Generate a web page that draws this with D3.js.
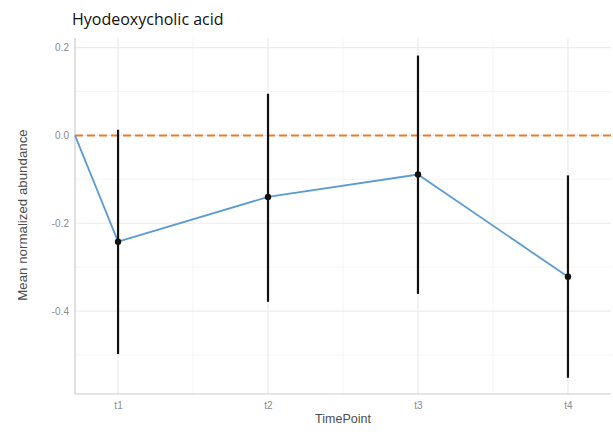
<!DOCTYPE html>
<html>
<head>
<meta charset="utf-8">
<script src="https://cdn.jsdelivr.net/npm/d3@7"></script>
<style>
  html, body { margin: 0; padding: 0; background: #fff; }
  svg { display: block; }
</style>
</head>
<body>
<svg id="chart" width="613" height="432"></svg>
<script>
// Time points and summary statistics
const timepoints = ["t1", "t2", "t3", "t4"];
const meanValues = [-0.242, -0.140, -0.089, -0.322];
const lowerValues = [-0.498, -0.379, -0.361, -0.552];
const upperValues = [0.013, 0.095, 0.182, -0.091];
// Line begins at the baseline value on the left panel edge
const baselineValue = 0;
const referenceLevel = 0;
const yTicks = [-0.4, -0.2, 0.0, 0.2];
const yMinorTicks = [-0.5, -0.3, -0.1, 0.1];
const xMinorTicks = [1.5, 2.5, 3.5];

const svg = d3.select("#chart");
const panel = { left: 75, right: 611, top: 38, bottom: 394 };

const x = d3.scaleLinear().domain([0.713, 4.287]).range([panel.left, panel.right]);
const y = d3.scaleLinear().domain([-0.589, 0.222]).range([panel.bottom, panel.top]);

const positions = timepoints.map((d, i) => i + 1);

// Grid
const grid = svg.append("g");
grid.selectAll(".ymin").data(yMinorTicks).join("line")
  .attr("x1", panel.left).attr("x2", panel.right)
  .attr("y1", d => y(d)).attr("y2", d => y(d))
  .attr("stroke", "#f2f2f2").attr("stroke-width", 0.8);
grid.selectAll(".xmin").data(xMinorTicks).join("line")
  .attr("y1", panel.top).attr("y2", panel.bottom)
  .attr("x1", d => x(d)).attr("x2", d => x(d))
  .attr("stroke", "#f2f2f2").attr("stroke-width", 0.8);
grid.selectAll(".ymaj").data(yTicks).join("line")
  .attr("x1", panel.left).attr("x2", panel.right)
  .attr("y1", d => y(d)).attr("y2", d => y(d))
  .attr("stroke", "#ebebeb").attr("stroke-width", 1.2);
grid.selectAll(".xmaj").data(positions).join("line")
  .attr("y1", panel.top).attr("y2", panel.bottom)
  .attr("x1", d => x(d)).attr("x2", d => x(d))
  .attr("stroke", "#ebebeb").attr("stroke-width", 1.2);

// Axes (plain hyphen for negative tick labels)
const fmt = d3.format(".1f");
const yAxis = d3.axisLeft(y).tickValues(yTicks).tickSize(0).tickPadding(6)
  .tickFormat(d => fmt(d).replace("\u2212", "-"));
const xAxis = d3.axisBottom(x).tickValues(positions).tickSize(0).tickPadding(8)
  .tickFormat((d, i) => timepoints[i]);

const gy = svg.append("g").attr("transform", `translate(${panel.left},0)`).call(yAxis);
const gx = svg.append("g").attr("transform", `translate(0,${panel.bottom})`).call(xAxis);
[gx, gy].forEach(g => {
  g.select(".domain").attr("stroke", "#cccccc").attr("stroke-width", 1.2);
  g.selectAll("text").attr("fill", "#8c8c8c")
    .style("font-family", "'Liberation Sans', Arial, sans-serif").style("font-size", "10px");
});
gy.select(".domain").attr("d", `M0,${panel.top}V${panel.bottom}`);
gx.select(".domain").attr("d", `M${panel.left},0H${panel.right}`);

// Reference line
svg.append("line")
  .attr("x1", panel.left).attr("x2", panel.right)
  .attr("y1", y(referenceLevel)).attr("y2", y(referenceLevel))
  .attr("stroke", "#e67e30").attr("stroke-width", 1.9)
  .attr("stroke-dasharray", "8,4");

// Mean line
const lineData = [[x.domain()[0], baselineValue]].concat(positions.map((p, i) => [p, meanValues[i]]));
svg.append("path")
  .datum(lineData)
  .attr("fill", "none")
  .attr("stroke", "#5b9bd5")
  .attr("stroke-width", 1.8)
  .attr("d", d3.line().x(d => x(d[0])).y(d => y(d[1])));

// Error bars
svg.selectAll(".err").data(positions).join("line")
  .attr("x1", d => x(d)).attr("x2", d => x(d))
  .attr("y1", (d, i) => y(upperValues[i])).attr("y2", (d, i) => y(lowerValues[i]))
  .attr("stroke", "#111").attr("stroke-width", 2.2);

// Points
svg.selectAll(".pt").data(positions).join("circle")
  .attr("cx", d => x(d)).attr("cy", (d, i) => y(meanValues[i]))
  .attr("r", 3.2).attr("fill", "#111");

// Titles
svg.append("text")
  .attr("x", 72).attr("y", 25)
  .attr("fill", "#111")
  .style("font-family", "'Open Sans', 'Noto Sans', sans-serif")
  .style("font-size", "16px")
  .text("Hyodeoxycholic acid");

svg.append("text")
  .attr("x", 343).attr("y", 423)
  .attr("text-anchor", "middle")
  .attr("fill", "#4d4d4d")
  .style("font-family", "'Liberation Sans', Arial, sans-serif")
  .style("font-size", "12.5px")
  .text("TimePoint");

svg.append("text")
  .attr("transform", `translate(27,${(panel.top + panel.bottom) / 2 - 1}) rotate(-90)`)
  .attr("text-anchor", "middle")
  .attr("fill", "#4d4d4d")
  .style("font-family", "'Liberation Sans', Arial, sans-serif")
  .style("font-size", "13.3px")
  .text("Mean normalized abundance");
</script>
</body>
</html>
